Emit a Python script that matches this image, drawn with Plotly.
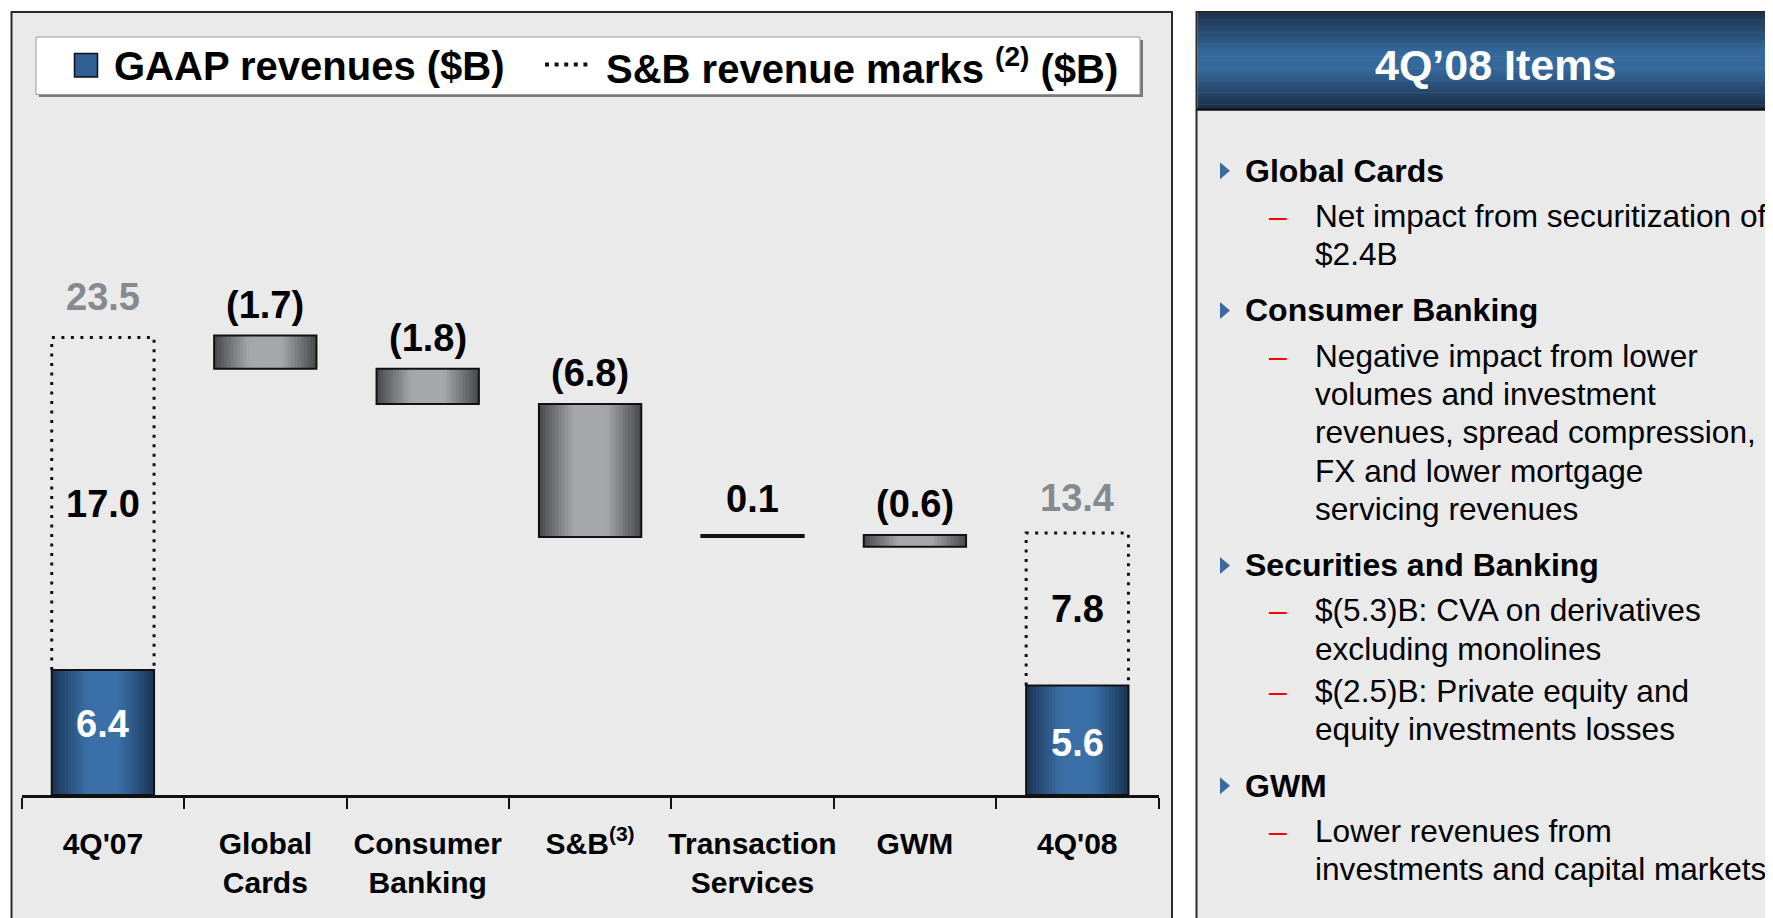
import plotly.graph_objects as go

# ---------------- data ----------------
categories = ["4Q'07", "Global<br>Cards", "Consumer<br>Banking", "S&B<sup>(3)</sup>",
              "Transaction<br>Services", "GWM", "4Q'08"]
gaap_revenues = [6.4, 5.6]          # 4Q'07, 4Q'08
sb_marks = [17.0, 7.8]              # 4Q'07, 4Q'08
total_labels = [23.5, 13.4]         # 4Q'07, 4Q'08
changes = [-1.7, -1.8, -6.8, 0.1, -0.6]   # Global Cards .. GWM

legend_gaap = "GAAP revenues ($B)"
legend_marks = "S&B revenue marks <sup>(2)</sup> ($B)"

panel_title = "4Q\u201908 Items"
panel_headings = ["Global Cards", "Consumer Banking", "Securities and Banking", "GWM"]
panel_bullets = [
    [["Net impact from securitization of", "$2.4B"]],
    [["Negative impact from lower", "volumes and investment", "revenues, spread compression,",
      "FX and lower mortgage", "servicing revenues"]],
    [["$(5.3)B: CVA on derivatives", "excluding monolines"],
     ["$(2.5)B: Private equity and", "equity investments losses"]],
    [["Lower revenues from", "investments and capital markets"]],
]

# ---------------- helpers ----------------
OFF = 8                      # page body margin of the html page
FW, FH = 1773 - OFF, 918 - OFF
FONT = "Liberation Sans, Arial, Helvetica, sans-serif"


def PX(x):
    return (x - OFF) / FW


def PY(y):
    return 1 - (y - OFF) / FH


def hex2rgb(h):
    h = h.lstrip("#")
    return tuple(int(h[i:i + 2], 16) for i in (0, 2, 4))


def mix(a, b, t):
    ca, cb = hex2rgb(a), hex2rgb(b)
    return "rgb(%d,%d,%d)" % tuple(round(ca[i] + (cb[i] - ca[i]) * t) for i in range(3))


def fmt_change(v):
    return "(%.1f)" % abs(v) if v < 0 else "%.1f" % v


W = 0.63
fig = go.Figure()


def add_gradient_bar(x, base, height, edge, center):
    n = 16
    for k in range(n):
        w = W * (1 - k / n)
        p = (k + 0.5) / (2 * n)
        t = min(1.0, p / 0.34)
        fig.add_trace(go.Bar(x=[x], y=[height], base=[base], width=w,
                             marker=dict(color=mix(edge, center, t), line=dict(width=0)),
                             hoverinfo="skip", showlegend=False))
    fig.add_trace(go.Bar(x=[x], y=[height], base=[base], width=W,
                         marker=dict(color="rgba(0,0,0,0)", line=dict(color="#111111", width=2)),
                         hoverinfo="skip", showlegend=False))


end_idx = [0, len(categories) - 1]
gaap_label_shift = [8, -3]
total_label_shift = [41, 35]
annotations = []

# end bars (GAAP) + dotted marks boxes
for j, i in enumerate(end_idx):
    add_gradient_bar(i, 0, gaap_revenues[j], "#1A3353", "#3A70A7")
    top = gaap_revenues[j] + sb_marks[j]
    fig.add_trace(go.Scatter(x=[i - W / 2, i - W / 2, i + W / 2, i + W / 2],
                             y=[gaap_revenues[j], top, top, gaap_revenues[j]],
                             mode="lines", line=dict(color="#111111", width=3, dash="3px,6.5px"),
                             hoverinfo="skip", showlegend=False))
    annotations.append(dict(x=i, y=gaap_revenues[j] / 2, xref="x", yref="y", text=f"{gaap_revenues[j]:.1f}",
                            showarrow=False, yshift=gaap_label_shift[j],
                            font=dict(family=FONT, size=38, color="white", weight="bold")))
    annotations.append(dict(x=i, y=gaap_revenues[j] + sb_marks[j] / 2, xref="x", yref="y", text=f"{sb_marks[j]:.1f}",
                            showarrow=False, font=dict(family=FONT, size=38, color="black", weight="bold")))
    annotations.append(dict(x=i, y=top, xref="x", yref="y", text=f"{total_labels[j]:.1f}",
                            showarrow=False, yshift=total_label_shift[j],
                            font=dict(family=FONT, size=38, color="#858A91", weight="bold")))

# waterfall steps
level = total_labels[0]
for k, c in enumerate(changes):
    i = k + 1
    start, end = level, level + c
    base, top = min(start, end), max(start, end)
    add_gradient_bar(i, base, abs(c), "#47484C", "#A6A7AB")
    annotations.append(dict(x=i, y=top, xref="x", yref="y", text=fmt_change(c),
                            showarrow=False, yshift=31 if c < 0 else 36,
                            font=dict(family=FONT, size=38, color="black", weight="bold")))
    level = end

# ---------------- panels (shapes) ----------------
shapes = []
# left panel
shapes.append(dict(type="rect", xref="paper", yref="paper", x0=PX(11.5), x1=PX(1172), y0=PY(935), y1=PY(12),
                   fillcolor="#EAEAEA", line=dict(color="#2A2A2A", width=2), layer="below"))
# right panel
shapes.append(dict(type="rect", xref="paper", yref="paper", x0=PX(1196.5), x1=PX(1795), y0=PY(935), y1=PY(12),
                   fillcolor="#EAEAEA", line=dict(color="#2A2A2A", width=2), layer="below"))
# header gradient
n_strips = 40
h_top, h_bot = 13, 109
for s in range(n_strips):
    y0 = h_top + (h_bot - h_top) * s / n_strips
    y1 = h_top + (h_bot - h_top) * (s + 1) / n_strips + 0.6
    f = (s + 0.5) / n_strips
    if f < 0.5:
        col = mix("#1C3250", "#35699C", min(1, f / 0.42))
    else:
        col = mix("#35699C", "#1A2D47", min(1, (f - 0.58) / 0.42) if f > 0.58 else 0)
    shapes.append(dict(type="rect", xref="paper", yref="paper", x0=PX(1197.5), x1=PX(1795),
                       y0=PY(y1), y1=PY(y0), fillcolor=col, line=dict(width=0), layer="below"))
shapes.append(dict(type="line", xref="paper", yref="paper", x0=PX(1196.5), x1=PX(1795), y0=PY(109.5), y1=PY(109.5),
                   line=dict(color="#111111", width=2.5)))
shapes.append(dict(type="line", xref="paper", yref="paper", x0=PX(1196.5), x1=PX(1795), y0=PY(12), y1=PY(12),
                   line=dict(color="#2A2A2A", width=2)))

# legend box
shapes.append(dict(type="rect", xref="paper", yref="paper", x0=PX(39), x1=PX(1143), y0=PY(97), y1=PY(40),
                   fillcolor="#7A7A7A", line=dict(width=0)))
shapes.append(dict(type="rect", xref="paper", yref="paper", x0=PX(36), x1=PX(1140), y0=PY(94.5), y1=PY(37),
                   fillcolor="white", line=dict(color="#9A9A9A", width=1)))
shapes.append(dict(type="rect", xref="paper", yref="paper", x0=PX(74.5), x1=PX(97.5), y0=PY(77), y1=PY(53.5),
                   fillcolor="#2F5F93", line=dict(color="#111111", width=1.5)))
shapes.append(dict(type="line", xref="paper", yref="paper", x0=PX(545), x1=PX(592), y0=PY(64.5), y1=PY(64.5),
                   line=dict(color="#111111", width=4, dash="4px,5.6px")))

annotations.append(dict(x=PX(112), y=PY(66), xref="paper", yref="paper", text=legend_gaap, showarrow=False,
                        xanchor="left", yanchor="middle", font=dict(family=FONT, size=40, color="black", weight="bold")))
annotations.append(dict(x=PX(604), y=PY(66), xref="paper", yref="paper", text=legend_marks, showarrow=False,
                        xanchor="left", yanchor="middle", font=dict(family=FONT, size=40, color="black", weight="bold")))

# right panel text
annotations.append(dict(x=PX(1495), y=PY(65), xref="paper", yref="paper", text=panel_title, showarrow=False,
                        xanchor="center", yanchor="middle", font=dict(family=FONT, size=43, color="white", weight="bold")))
y = 170.7
for h, groups in zip(panel_headings, panel_bullets):
    shapes.append(dict(type="path", xref="paper", yref="paper",
                       path="M %f,%f L %f,%f L %f,%f Z" % (PX(1220), PY(y - 8.5), PX(1230), PY(y), PX(1220), PY(y + 8.5)),
                       fillcolor="#3A6A9E", line=dict(width=0)))
    annotations.append(dict(x=PX(1243), y=PY(y), xref="paper", yref="paper", text=h, showarrow=False,
                            xanchor="left", yanchor="middle", font=dict(family=FONT, size=32, color="black", weight="bold")))
    y += 45
    for gi, lines in enumerate(groups):
        annotations.append(dict(x=PX(1267), y=PY(y), xref="paper", yref="paper", text="\u2013", showarrow=False,
                                xanchor="left", yanchor="middle", font=dict(family=FONT, size=32, color="#FF0000")))
        for ln in lines:
            annotations.append(dict(x=PX(1313), y=PY(y), xref="paper", yref="paper", text=ln, showarrow=False,
                                    xanchor="left", yanchor="middle", font=dict(family=FONT, size=31.6, color="black")))
            y += 38.4
        if gi < len(groups) - 1:
            y += 3.6
    y += 18

# ---------------- layout ----------------
x_left, x_right = 21.7, 1158.5
axis_y = 795
px_per_unit = 19.55
fig.update_layout(
    width=FW, height=FH, margin=dict(l=0, r=0, t=0, b=0),
    paper_bgcolor="white", plot_bgcolor="rgba(0,0,0,0)",
    barmode="overlay", showlegend=False,
    xaxis=dict(domain=[PX(x_left), PX(x_right)], range=[-0.5, len(categories) - 0.5],
               tickmode="array", tickvals=list(range(len(categories))), ticktext=categories,
               ticks="", showgrid=False, zeroline=False,
               showline=True, linecolor="#111111", linewidth=2.5,
               tickfont=dict(family=FONT, size=30, color="black", weight="bold"),
               ticklabelstandoff=20,
               minor=dict(tickvals=[v - 0.5 for v in range(len(categories) + 1)], ticks="outside",
                          ticklen=11, tickwidth=2, tickcolor="#111111", showgrid=False)),
    yaxis=dict(domain=[PY(axis_y), 1], range=[0, (axis_y - OFF) / px_per_unit], visible=False, showgrid=False),
    shapes=shapes, annotations=annotations,
)

fig.write_html("out.html")
